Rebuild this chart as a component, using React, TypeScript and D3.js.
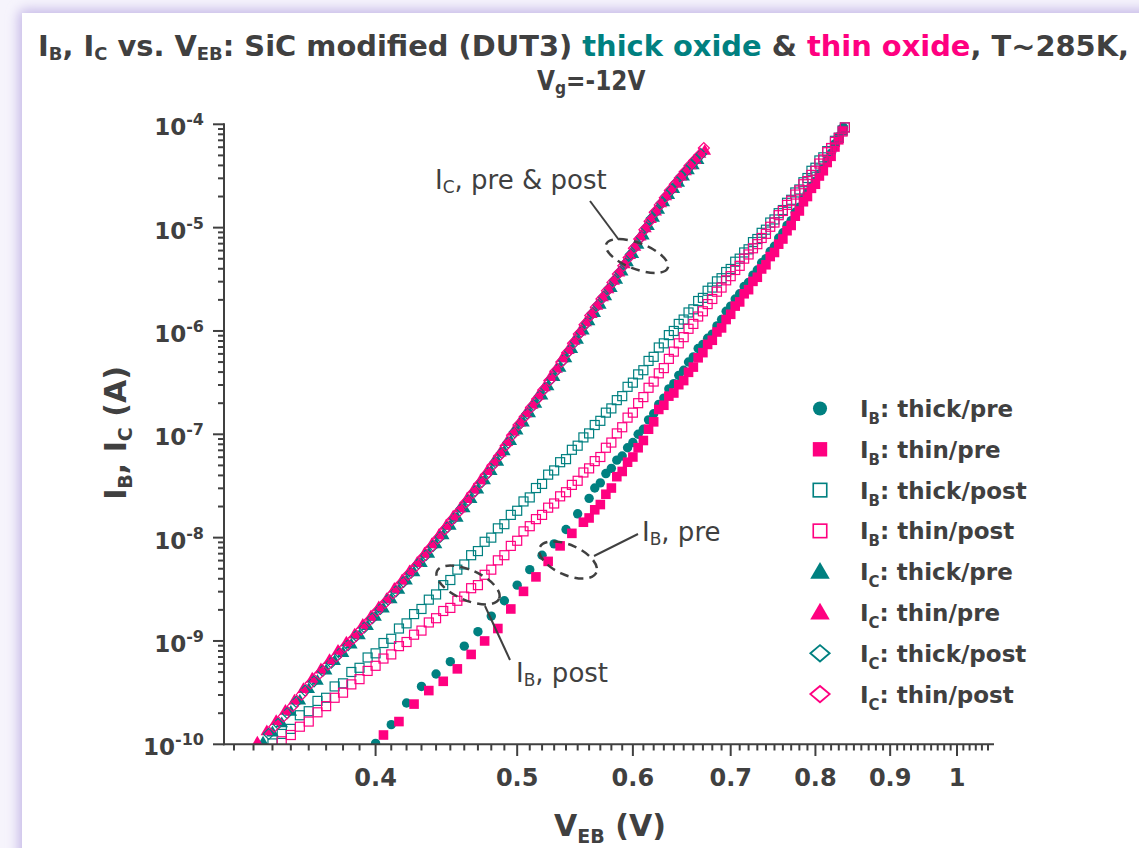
import React, { useLayoutEffect, useRef, useState } from 'react';
import * as d3 from 'd3';

const TEAL = '#008080';
const PINK = '#FF0080';
const INK = '#404040';

type Pt = [number, number];

// I_C series (V_EB [V], I [A])
const icThickPre: Pt[] = [[0.335,1.05e-10],[0.340,1.32e-10],[0.345,1.62e-10],[0.350,2.09e-10],[0.355,2.69e-10],[0.360,3.47e-10],[0.365,4.17e-10],[0.370,5.25e-10],[0.375,6.46e-10],[0.380,7.76e-10],[0.385,9.33e-10],[0.390,1.15e-9],[0.395,1.41e-9],[0.400,1.74e-9],[0.405,2.09e-9],[0.410,2.57e-9],[0.415,3.16e-9],[0.420,3.89e-9],[0.425,4.68e-9],[0.430,5.75e-9],[0.435,7.08e-9],[0.440,8.71e-9],[0.445,1.07e-8],[0.450,1.32e-8],[0.455,1.58e-8],[0.460,1.95e-8],[0.465,2.4e-8],[0.470,2.95e-8],[0.475,3.63e-8],[0.480,4.47e-8],[0.485,5.5e-8],[0.490,6.92e-8],[0.495,8.71e-8],[0.500,1.1e-7],[0.505,1.32e-7],[0.510,1.62e-7],[0.515,2.0e-7],[0.520,2.4e-7],[0.525,2.95e-7],[0.530,3.63e-7],[0.535,4.47e-7],[0.540,5.5e-7],[0.545,6.76e-7],[0.550,8.32e-7],[0.555,1.02e-6],[0.560,1.26e-6],[0.565,1.51e-6],[0.570,1.82e-6],[0.575,2.19e-6],[0.580,2.63e-6],[0.585,3.16e-6],[0.590,3.8e-6],[0.595,4.68e-6],[0.600,5.62e-6],[0.605,6.92e-6],[0.610,8.51e-6],[0.615,1.05e-5],[0.620,1.26e-5],[0.625,1.51e-5],[0.630,1.78e-5],[0.635,2.09e-5],[0.640,2.4e-5],[0.645,2.75e-5],[0.650,3.16e-5],[0.655,3.63e-5],[0.660,4.07e-5],[0.665,4.57e-5]];
const icThinPre: Pt[] = [[0.332,1.05e-10],[0.337,1.35e-10],[0.342,1.7e-10],[0.347,2.14e-10],[0.352,2.69e-10],[0.357,3.47e-10],[0.362,4.37e-10],[0.367,5.37e-10],[0.372,6.61e-10],[0.377,8.13e-10],[0.382,9.77e-10],[0.387,1.17e-9],[0.392,1.45e-9],[0.397,1.74e-9],[0.402,2.14e-9],[0.407,2.57e-9],[0.412,3.24e-9],[0.417,3.89e-9],[0.422,4.79e-9],[0.427,5.75e-9],[0.432,7.08e-9],[0.437,8.71e-9],[0.442,1.07e-8],[0.447,1.32e-8],[0.452,1.62e-8],[0.457,1.95e-8],[0.462,2.4e-8],[0.467,2.95e-8],[0.472,3.63e-8],[0.477,4.47e-8],[0.482,5.5e-8],[0.487,6.76e-8],[0.492,8.51e-8],[0.497,1.07e-7],[0.502,1.32e-7],[0.507,1.62e-7],[0.512,1.95e-7],[0.517,2.4e-7],[0.522,2.88e-7],[0.527,3.63e-7],[0.532,4.37e-7],[0.537,5.5e-7],[0.542,6.61e-7],[0.547,8.13e-7],[0.552,1.0e-6],[0.557,1.23e-6],[0.562,1.48e-6],[0.567,1.78e-6],[0.572,2.14e-6],[0.577,2.57e-6],[0.582,3.09e-6],[0.587,3.72e-6],[0.592,4.47e-6],[0.597,5.5e-6],[0.602,6.61e-6],[0.607,8.32e-6],[0.612,1.0e-5],[0.617,1.23e-5],[0.622,1.45e-5],[0.627,1.74e-5],[0.632,2.04e-5],[0.637,2.4e-5],[0.642,2.69e-5],[0.647,3.16e-5],[0.652,3.55e-5],[0.657,4.07e-5],[0.662,4.57e-5],[0.667,5.25e-5],[0.672,5.62e-5]];
const icThickPost: Pt[] = [[0.338,1.26e-10],[0.343,1.58e-10],[0.348,2.0e-10],[0.353,2.57e-10],[0.358,3.31e-10],[0.363,4.07e-10],[0.368,5.13e-10],[0.373,6.17e-10],[0.378,7.59e-10],[0.383,9.12e-10],[0.388,1.12e-9],[0.393,1.35e-9],[0.398,1.66e-9],[0.403,2.04e-9],[0.408,2.51e-9],[0.413,3.02e-9],[0.418,3.72e-9],[0.423,4.57e-9],[0.428,5.62e-9],[0.433,6.76e-9],[0.438,8.32e-9],[0.443,1.02e-8],[0.448,1.26e-8],[0.453,1.55e-8],[0.458,1.91e-8],[0.463,2.29e-8],[0.468,2.82e-8],[0.473,3.47e-8],[0.478,4.27e-8],[0.483,5.37e-8],[0.488,6.61e-8],[0.493,8.32e-8],[0.498,1.05e-7],[0.503,1.29e-7],[0.508,1.58e-7],[0.513,1.91e-7],[0.518,2.34e-7],[0.523,2.82e-7],[0.528,3.47e-7],[0.533,4.27e-7],[0.538,5.25e-7],[0.543,6.46e-7],[0.548,7.94e-7],[0.553,9.77e-7],[0.558,1.2e-6],[0.563,1.48e-6],[0.568,1.78e-6],[0.573,2.14e-6],[0.578,2.57e-6],[0.583,3.09e-6],[0.588,3.72e-6],[0.593,4.47e-6],[0.598,5.5e-6],[0.603,6.61e-6],[0.608,8.13e-6],[0.613,1.0e-5],[0.618,1.23e-5],[0.623,1.45e-5],[0.628,1.74e-5],[0.633,2.04e-5],[0.638,2.34e-5],[0.643,2.75e-5],[0.648,3.16e-5],[0.653,3.55e-5],[0.658,4.07e-5],[0.663,4.57e-5],[0.668,5.13e-5]];
const icThinPost: Pt[] = [[0.341,1.48e-10],[0.346,1.86e-10],[0.351,2.34e-10],[0.356,3.02e-10],[0.361,3.89e-10],[0.366,4.79e-10],[0.371,5.89e-10],[0.376,7.08e-10],[0.381,8.71e-10],[0.386,1.05e-9],[0.391,1.29e-9],[0.396,1.58e-9],[0.401,1.95e-9],[0.406,2.34e-9],[0.411,2.88e-9],[0.416,3.55e-9],[0.421,4.37e-9],[0.426,5.25e-9],[0.431,6.46e-9],[0.436,7.94e-9],[0.441,9.77e-9],[0.446,1.2e-8],[0.451,1.48e-8],[0.456,1.78e-8],[0.461,2.19e-8],[0.466,2.69e-8],[0.471,3.31e-8],[0.476,4.07e-8],[0.481,5.01e-8],[0.486,6.17e-8],[0.491,7.76e-8],[0.496,9.77e-8],[0.501,1.23e-7],[0.506,1.48e-7],[0.511,1.82e-7],[0.516,2.19e-7],[0.521,2.69e-7],[0.526,3.31e-7],[0.531,4.07e-7],[0.536,5.01e-7],[0.541,6.17e-7],[0.546,7.59e-7],[0.551,9.33e-7],[0.556,1.15e-6],[0.561,1.41e-6],[0.566,1.7e-6],[0.571,2.04e-6],[0.576,2.45e-6],[0.581,2.95e-6],[0.586,3.55e-6],[0.591,4.27e-6],[0.596,5.13e-6],[0.601,6.31e-6],[0.606,7.76e-6],[0.611,9.55e-6],[0.616,1.15e-5],[0.621,1.41e-5],[0.626,1.66e-5],[0.631,1.95e-5],[0.636,2.29e-5],[0.641,2.63e-5],[0.646,3.02e-5],[0.651,3.47e-5],[0.656,3.98e-5],[0.661,4.47e-5],[0.666,5.01e-5],[0.671,5.89e-5]];

// I_B series
const ibThickPre: Pt[] = [[0.400,1.02e-10],[0.410,1.55e-10],[0.420,2.51e-10],[0.430,3.63e-10],[0.440,4.79e-10],[0.450,6.31e-10],[0.460,8.91e-10],[0.470,1.23e-9],[0.480,1.74e-9],[0.490,2.45e-9],[0.500,3.47e-9],[0.510,4.9e-9],[0.520,6.76e-9],[0.530,8.71e-9],[0.540,1.2e-8],[0.550,1.7e-8],[0.560,2.4e-8],[0.565,3.02e-8],[0.570,3.39e-8],[0.575,4.17e-8],[0.580,4.68e-8],[0.585,5.62e-8],[0.590,6.17e-8],[0.595,7.41e-8],[0.600,8.32e-8],[0.605,1.0e-7],[0.610,1.12e-7],[0.615,1.38e-7],[0.620,1.58e-7],[0.625,1.95e-7],[0.630,2.24e-7],[0.635,2.75e-7],[0.640,3.09e-7],[0.645,3.72e-7],[0.650,4.17e-7],[0.655,5.01e-7],[0.660,5.62e-7],[0.665,6.76e-7],[0.670,7.41e-7],[0.675,8.51e-7],[0.680,9.33e-7],[0.685,1.12e-6],[0.690,1.29e-6],[0.695,1.55e-6],[0.700,1.74e-6],[0.705,2.04e-6],[0.710,2.29e-6],[0.715,2.69e-6],[0.720,2.95e-6],[0.725,3.47e-6],[0.730,3.89e-6],[0.735,4.57e-6],[0.740,5.01e-6],[0.745,5.89e-6],[0.750,6.61e-6],[0.755,7.94e-6],[0.760,8.91e-6],[0.765,1.05e-5],[0.770,1.17e-5],[0.775,1.41e-5],[0.780,1.58e-5],[0.785,1.91e-5],[0.790,2.19e-5],[0.795,2.51e-5],[0.800,2.82e-5],[0.805,3.31e-5],[0.810,3.72e-5],[0.815,4.47e-5],[0.820,5.25e-5],[0.825,6.46e-5],[0.830,7.59e-5],[0.836,9.33e-5]];
const ibThinPre: Pt[] = [[0.405,1.23e-10],[0.415,1.66e-10],[0.425,2.45e-10],[0.435,3.31e-10],[0.445,4.07e-10],[0.455,5.37e-10],[0.465,7.41e-10],[0.475,1.0e-9],[0.485,1.32e-9],[0.495,2.04e-9],[0.505,3.02e-9],[0.515,4.17e-9],[0.525,5.89e-9],[0.535,8.32e-9],[0.545,1.1e-8],[0.555,1.41e-8],[0.560,1.55e-8],[0.565,1.86e-8],[0.570,2.09e-8],[0.575,2.63e-8],[0.580,3.02e-8],[0.585,3.89e-8],[0.590,4.37e-8],[0.595,5.37e-8],[0.600,6.03e-8],[0.605,7.41e-8],[0.610,8.71e-8],[0.615,1.12e-7],[0.620,1.32e-7],[0.625,1.74e-7],[0.630,1.91e-7],[0.635,2.34e-7],[0.640,2.51e-7],[0.645,3.02e-7],[0.650,3.31e-7],[0.655,3.98e-7],[0.660,4.47e-7],[0.665,5.5e-7],[0.670,6.17e-7],[0.675,7.41e-7],[0.680,8.13e-7],[0.685,9.77e-7],[0.690,1.07e-6],[0.695,1.29e-6],[0.700,1.45e-6],[0.705,1.74e-6],[0.710,1.91e-6],[0.715,2.29e-6],[0.720,2.51e-6],[0.725,3.02e-6],[0.730,3.31e-6],[0.735,3.98e-6],[0.740,4.37e-6],[0.745,5.25e-6],[0.750,5.75e-6],[0.755,6.92e-6],[0.760,7.76e-6],[0.765,9.33e-6],[0.770,1.05e-5],[0.775,1.29e-5],[0.780,1.45e-5],[0.785,1.78e-5],[0.790,2.0e-5],[0.795,2.4e-5],[0.800,2.63e-5],[0.805,3.16e-5],[0.810,3.55e-5],[0.815,4.27e-5],[0.820,4.9e-5],[0.825,6.03e-5],[0.830,7.08e-5],[0.835,8.71e-5]];
const ibThickPost: Pt[] = [[0.340,1.02e-10],[0.345,1.26e-10],[0.350,1.41e-10],[0.355,1.91e-10],[0.360,2.09e-10],[0.365,2.63e-10],[0.370,2.82e-10],[0.375,3.63e-10],[0.380,3.89e-10],[0.385,5.01e-10],[0.390,5.5e-10],[0.395,6.92e-10],[0.400,7.59e-10],[0.405,9.55e-10],[0.410,1.05e-9],[0.415,1.32e-9],[0.420,1.48e-9],[0.425,1.82e-9],[0.430,2.04e-9],[0.435,2.51e-9],[0.440,2.82e-9],[0.445,3.47e-9],[0.450,3.89e-9],[0.455,4.9e-9],[0.460,5.5e-9],[0.465,6.76e-9],[0.470,7.41e-9],[0.475,9.12e-9],[0.480,1.0e-8],[0.485,1.23e-8],[0.490,1.35e-8],[0.495,1.66e-8],[0.500,1.82e-8],[0.505,2.24e-8],[0.510,2.45e-8],[0.515,3.02e-8],[0.520,3.31e-8],[0.525,4.07e-8],[0.530,4.47e-8],[0.535,5.37e-8],[0.540,5.75e-8],[0.545,7.08e-8],[0.550,7.76e-8],[0.555,9.33e-8],[0.560,1.02e-7],[0.565,1.23e-7],[0.570,1.35e-7],[0.575,1.62e-7],[0.580,1.78e-7],[0.585,2.14e-7],[0.590,2.34e-7],[0.595,2.88e-7],[0.600,3.16e-7],[0.605,3.8e-7],[0.610,4.17e-7],[0.615,5.13e-7],[0.620,5.62e-7],[0.625,6.92e-7],[0.630,7.59e-7],[0.635,9.12e-7],[0.640,1.0e-6],[0.645,1.17e-6],[0.650,1.29e-6],[0.655,1.51e-6],[0.660,1.62e-6],[0.665,1.95e-6],[0.670,2.09e-6],[0.675,2.45e-6],[0.680,2.63e-6],[0.685,3.02e-6],[0.690,3.24e-6],[0.695,3.72e-6],[0.700,3.98e-6],[0.705,4.68e-6],[0.710,5.01e-6],[0.715,5.75e-6],[0.720,6.17e-6],[0.725,7.24e-6],[0.730,7.76e-6],[0.735,8.91e-6],[0.740,9.55e-6],[0.745,1.12e-5],[0.750,1.2e-5],[0.755,1.38e-5],[0.760,1.48e-5],[0.765,1.74e-5],[0.770,1.86e-5],[0.775,2.19e-5],[0.780,2.34e-5],[0.785,2.75e-5],[0.790,3.02e-5],[0.795,3.55e-5],[0.800,3.8e-5],[0.805,4.47e-5],[0.810,4.79e-5],[0.815,5.5e-5],[0.820,5.89e-5],[0.825,6.92e-5],[0.830,7.41e-5],[0.835,8.71e-5],[0.838,9.33e-5]];
const ibThinPost: Pt[] = [[0.345,1.07e-10],[0.350,1.23e-10],[0.355,1.48e-10],[0.360,1.66e-10],[0.365,2.04e-10],[0.370,2.34e-10],[0.375,2.82e-10],[0.380,3.16e-10],[0.385,3.8e-10],[0.390,4.27e-10],[0.395,5.13e-10],[0.400,5.75e-10],[0.405,6.76e-10],[0.410,7.41e-10],[0.415,8.91e-10],[0.420,9.77e-10],[0.425,1.15e-9],[0.430,1.26e-9],[0.435,1.51e-9],[0.440,1.66e-9],[0.445,1.95e-9],[0.450,2.09e-9],[0.455,2.45e-9],[0.460,2.69e-9],[0.465,3.24e-9],[0.470,3.47e-9],[0.475,4.37e-9],[0.480,4.9e-9],[0.485,6.03e-9],[0.490,6.76e-9],[0.495,8.32e-9],[0.500,9.33e-9],[0.505,1.15e-8],[0.510,1.29e-8],[0.515,1.51e-8],[0.520,1.66e-8],[0.525,1.95e-8],[0.530,2.14e-8],[0.535,2.51e-8],[0.540,2.75e-8],[0.545,3.24e-8],[0.550,3.55e-8],[0.555,4.27e-8],[0.560,4.68e-8],[0.565,5.5e-8],[0.570,6.03e-8],[0.575,7.41e-8],[0.580,8.32e-8],[0.585,1.02e-7],[0.590,1.17e-7],[0.595,1.45e-7],[0.600,1.62e-7],[0.605,2.0e-7],[0.610,2.29e-7],[0.615,2.82e-7],[0.620,3.24e-7],[0.625,3.89e-7],[0.630,4.37e-7],[0.635,5.37e-7],[0.640,6.31e-7],[0.645,7.59e-7],[0.650,8.71e-7],[0.655,1.05e-6],[0.660,1.17e-6],[0.665,1.38e-6],[0.670,1.55e-6],[0.675,1.82e-6],[0.680,2.04e-6],[0.685,2.4e-6],[0.690,2.63e-6],[0.695,3.09e-6],[0.700,3.39e-6],[0.705,3.89e-6],[0.710,4.27e-6],[0.715,5.01e-6],[0.720,5.5e-6],[0.725,6.31e-6],[0.730,6.92e-6],[0.735,7.94e-6],[0.740,8.71e-6],[0.745,1.02e-5],[0.750,1.12e-5],[0.755,1.32e-5],[0.760,1.45e-5],[0.765,1.66e-5],[0.770,1.82e-5],[0.775,2.09e-5],[0.780,2.29e-5],[0.785,2.63e-5],[0.790,2.82e-5],[0.795,3.24e-5],[0.800,3.55e-5],[0.805,4.17e-5],[0.810,4.57e-5],[0.815,5.37e-5],[0.820,5.89e-5],[0.825,6.76e-5],[0.830,7.41e-5],[0.835,8.51e-5],[0.838,9.33e-5]];

const xTickValues = [0.4, 0.5, 0.6, 0.7, 0.8, 0.9, 1];
const xTickLabels = ['0.4', '0.5', '0.6', '0.7', '0.8', '0.9', '1'];
const yTickExponents = [-4, -5, -6, -7, -8, -9, -10];

type Shape = 'circle' | 'square' | 'triangle' | 'diamond';
interface Series { data: Pt[]; shape: Shape; filled: boolean; color: string; sub: string; text: string; }

const seriesList: Series[] = [
  { data: ibThickPre, shape: 'circle', filled: true, color: TEAL, sub: 'B', text: ': thick/pre' },
  { data: ibThinPre, shape: 'square', filled: true, color: PINK, sub: 'B', text: ': thin/pre' },
  { data: ibThickPost, shape: 'square', filled: false, color: TEAL, sub: 'B', text: ': thick/post' },
  { data: ibThinPost, shape: 'square', filled: false, color: PINK, sub: 'B', text: ': thin/post' },
  { data: icThickPre, shape: 'triangle', filled: true, color: TEAL, sub: 'C', text: ': thick/pre' },
  { data: icThinPre, shape: 'triangle', filled: true, color: PINK, sub: 'C', text: ': thin/pre' },
  { data: icThickPost, shape: 'diamond', filled: false, color: TEAL, sub: 'C', text: ': thick/post' },
  { data: icThinPost, shape: 'diamond', filled: false, color: PINK, sub: 'C', text: ': thin/post' },
];

function Marker({ shape, filled, color, cx, cy, k }: { shape: Shape; filled: boolean; color: string; cx: number; cy: number; k: number }) {
  const fill = filled ? color : 'none';
  const stroke = filled ? 'none' : color;
  const sw = filled ? 0 : 1.2 * Math.max(1, k * 0.9);
  if (shape === 'circle') return <circle cx={cx} cy={cy} r={4.7 * k} fill={fill} />;
  if (shape === 'square') {
    const s = (filled ? 9.6 : 9.0) * k;
    return <rect x={cx - s / 2} y={cy - s / 2} width={s} height={s} fill={fill} stroke={stroke} strokeWidth={sw} />;
  }
  if (shape === 'triangle') {
    const hw = 6.3 * k, h = 10.8 * k;
    const p = `M${cx},${cy - h * 0.58}L${cx + hw},${cy + h * 0.42}L${cx - hw},${cy + h * 0.42}Z`;
    return <path d={p} fill={fill} />;
  }
  const hw = 5.5 * k, hh = 5.5 * k * (k > 1 ? 0.85 : 1);
  const p = `M${cx},${cy - hh}L${cx + hw},${cy}L${cx},${cy + hh}L${cx - hw},${cy}Z`;
  return <path d={p} fill={fill} stroke={stroke} strokeWidth={sw} />;
}

export default function App() {
  const x = d3.scaleLog().domain([0.315, 1.055]).range([224, 991]);
  const y = d3.scaleLog().domain([1e-10, 1e-4]).range([744.3, 124.3]);

  const titleRef = useRef<SVGTextElement>(null);
  const [titleScale, setTitleScale] = useState(0.8);
  useLayoutEffect(() => {
    if (titleRef.current) {
      const w = titleRef.current.getBBox().width;
      if (w > 0) setTitleScale(1091 / w);
    }
  }, []);

  const xMinor: number[] = [];
  for (let k = 32; k <= 105; k++) if (k % 10 !== 0) xMinor.push(k / 100);
  const yMinor: number[] = [];
  for (let e = -10; e < -4; e++) for (let m = 2; m <= 9; m++) yMinor.push(m * Math.pow(10, e));

  const legendX = 820, legendY0 = 408.5, legendDy = 40.8;

  return (
    <svg width={1139} height={848} style={{ position: 'absolute', left: 0, top: 0, display: 'block' }} fontFamily="'DejaVu Sans', sans-serif">
      <defs>
        <filter id="shadow" x="-10%" y="-10%" width="120%" height="120%">
          <feGaussianBlur stdDeviation="6" />
        </filter>
        <clipPath id="plotClip"><rect x={224} y={0} width={767} height={744.3} /></clipPath>
      </defs>
      <rect x={0} y={0} width={1139} height={848} fill="#f6f4fc" />
      <rect x={18} y={9} width={1160} height={880} rx={8} fill="#c8bce8" filter="url(#shadow)" />
      <rect x={22} y={13} width={1140} height={860} fill="#ffffff" />

      {/* Title */}
      <g transform={`translate(38,56) scale(${titleScale},1)`}>
        <text ref={titleRef} x={0} y={0} fontSize={29} fontWeight="bold" fill={INK}>
          <tspan>I</tspan><tspan fontSize={18} dy={4}>B</tspan><tspan dy={-4}>{', I'}</tspan><tspan fontSize={18} dy={4}>C</tspan><tspan dy={-4}>{' vs. V'}</tspan><tspan fontSize={18} dy={4}>EB</tspan><tspan dy={-4}>{': SiC modified (DUT3) '}</tspan><tspan fill={TEAL}>thick oxide</tspan><tspan>{' & '}</tspan><tspan fill={PINK}>thin oxide</tspan><tspan>{', T~285K,'}</tspan>
        </text>
      </g>
      <g transform="translate(537,90) scale(0.86,1)">
        <text x={0} y={0} fontSize={27} fontWeight="bold" fill={INK}>
          <tspan>V</tspan><tspan fontSize={18} dy={4}>g</tspan><tspan dy={-4}>=-12V</tspan>
        </text>
      </g>

      {/* Data */}
      <g clipPath="url(#plotClip)">
        {seriesList.map((s, si) => (
          <g key={si}>
            {s.data.map((d, i) => (
              <Marker key={i} shape={s.shape} filled={s.filled} color={s.color} cx={x(d[0])} cy={y(d[1])} k={1} />
            ))}
          </g>
        ))}
      </g>

      {/* Axes */}
      <g stroke={INK} strokeWidth={2}>
        <line x1={224} y1={123.3} x2={224} y2={745.3} />
        <line x1={223} y1={744.3} x2={994} y2={744.3} />
        {yTickExponents.map((e) => (
          <line key={e} x1={213} x2={224} y1={y(Math.pow(10, e))} y2={y(Math.pow(10, e))} />
        ))}
        {yMinor.map((v, i) => (
          <line key={i} x1={218} x2={224} y1={y(v)} y2={y(v)} />
        ))}
        {xTickValues.map((v) => (
          <line key={v} x1={x(v)} x2={x(v)} y1={744.3} y2={756} />
        ))}
        {xMinor.map((v, i) => (
          <line key={i} x1={x(v)} x2={x(v)} y1={744.3} y2={750.5} />
        ))}
      </g>

      {/* Tick labels */}
      {yTickExponents.map((e) => (
        <text key={e} x={204} y={y(Math.pow(10, e)) + 11} textAnchor="end" fontSize={23} fontWeight="bold" fill={INK}>
          10<tspan fontSize={16} dy={-10}>{String(e)}</tspan>
        </text>
      ))}
      {xTickValues.map((v, i) => (
        <text key={v} x={x(v)} y={786} textAnchor="middle" fontSize={24} fontWeight="bold" fill={INK}>{xTickLabels[i]}</text>
      ))}

      {/* Axis titles */}
      <text transform="translate(126,433) rotate(-90)" textAnchor="middle" fontSize={30} fontWeight="bold" fill={INK}>
        <tspan>I</tspan><tspan fontSize={19} dy={6}>B</tspan><tspan dy={-6}>{', I'}</tspan><tspan fontSize={19} dy={6}>C</tspan><tspan dy={-6}>{' (A)'}</tspan>
      </text>
      <text x={610} y={836} textAnchor="middle" fontSize={30} fontWeight="bold" fill={INK}>
        <tspan>V</tspan><tspan fontSize={19} dy={7}>EB</tspan><tspan dy={-7}>{' (V)'}</tspan>
      </text>

      {/* Legend */}
      {seriesList.map((s, i) => {
        const ly = legendY0 + i * legendDy;
        return (
          <g key={i}>
            <Marker shape={s.shape} filled={s.filled} color={s.color} cx={legendX} cy={ly} k={s.shape === 'triangle' ? 1.55 : s.shape === 'diamond' ? 1.75 : 1.5} />
            <text x={860} y={ly + 8.5} fontSize={23} fontWeight="bold" fill={INK}>
              <tspan>I</tspan><tspan fontSize={15} dy={7}>{s.sub}</tspan><tspan dy={-7}>{s.text}</tspan>
            </text>
          </g>
        );
      })}

      {/* Annotations */}
      <g fill={INK} fontSize={26}>
        <text x={435} y={189}><tspan>I</tspan><tspan fontSize={17} dy={4}>C</tspan><tspan dy={-4}>{', pre & post'}</tspan></text>
        <text x={642} y={541}><tspan>I</tspan><tspan fontSize={17} dy={4}>B</tspan><tspan dy={-4}>{', pre'}</tspan></text>
        <text x={516} y={682}><tspan>I</tspan><tspan fontSize={17} dy={4}>B</tspan><tspan dy={-4}>{', post'}</tspan></text>
      </g>
      <g stroke={INK} strokeWidth={2} fill="none">
        <line x1={590} y1={201} x2={619} y2={240} />
        <line x1={638} y1={534} x2={594} y2={556} />
        <line x1={510} y1={660} x2={485} y2={606} />
      </g>
      <g stroke={INK} strokeWidth={2.5} fill="none" strokeDasharray="9 6">
        <ellipse cx={637} cy={256} rx={33} ry={13} transform="rotate(21 637 256)" />
        <ellipse cx={568} cy={560} rx={31} ry={15} transform="rotate(24 568 560)" />
        <ellipse cx={468} cy={585} rx={34} ry={15} transform="rotate(24 468 585)" />
      </g>
    </svg>
  );
}
